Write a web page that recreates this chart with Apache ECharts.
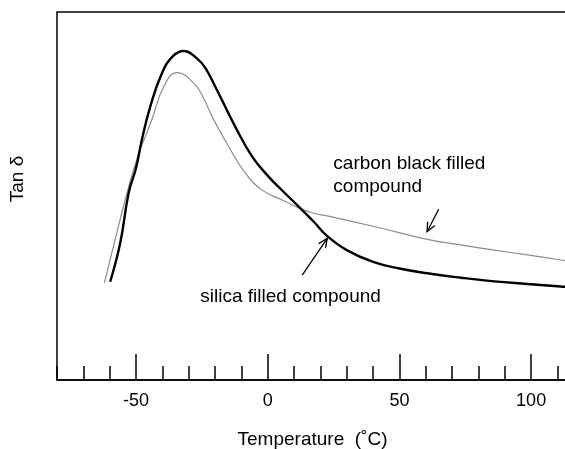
<!DOCTYPE html>
<html><head><meta charset="utf-8">
<script src="https://cdn.jsdelivr.net/npm/echarts@6/dist/echarts.min.js"></script>
<style>html,body{margin:0;padding:0;background:#fff}#c{width:565px;height:449px}</style>
</head><body><div id="c"></div>
<script>
// Silica filled compound (thick black)
const tempSilica = [-59.8, -56.0, -52.8, -50.0, -47.8, -44.6, -40.2, -36.0, -31.9, -26.3, -23.7, -19.9, -12.3, -5.9, 0.4, 5.5, 11.8, 17.5, 22.6, 30.0, 40.0, 50.0, 60.6, 73.3, 86.0, 98.6, 111.3, 114.0];
const tanSilica  = [26.7, 37.2, 50.8, 57.6, 65.2, 74.3, 83.3, 88.0, 89.4, 87.0, 84.8, 79.7, 68.8, 60.7, 55.2, 51.5, 47.1, 43.0, 39.1, 35.3, 32.1, 30.3, 29.0, 27.8, 26.8, 26.1, 25.4, 25.3];
// Carbon black filled compound (thin grey)
const tempCarbon = [-62.0, -56.7, -52.8, -49.2, -44.0, -39.5, -34.4, -27.5, -23.7, -21.1, -14.8, -8.5, -2.1, 5.5, 12.0, 17.5, 22.6, 41.6, 60.6, 73.3, 86.0, 98.6, 111.3, 114.0];
const tanCarbon  = [26.4, 41.7, 52.5, 61.0, 70.7, 79.7, 83.5, 80.2, 75.6, 71.5, 63.4, 56.2, 51.6, 48.9, 46.7, 45.3, 44.6, 41.5, 38.2, 36.7, 35.3, 34.0, 32.6, 32.3];
// Axis ticks / labels
const xTickLabels = [-50, 0, 50, 100];
const majorTicks = [-50, 0, 50, 100];
// Annotations (data coords)
const carbonLabel = {text: 'carbon black filled\ncompound', at: [24.9, 55.6]};
const carbonArrow = {from: [64.9, 46.4], to: [60.5, 40.3]};
const silicaLabel = {text: 'silica filled compound', at: [-25.6, 22.6]};
const silicaArrow = {from: [13.1, 28.5], to: [22.6, 38.5]};

const FONT = '"Liberation Sans", Arial, sans-serif';
const zip = (a, b) => a.map((v, i) => [v, b[i]]);
const chart = echarts.init(document.getElementById('c'), null, {renderer: 'canvas'});
const tickStyle = {color: '#000', width: 1.5};
chart.setOption({
  animation: false,
  grid: {left: 57, right: -3, top: 12, bottom: 69, outerBoundsMode: 'none', containLabel: false,
         show: true, borderColor: '#000', borderWidth: 1.5},
  xAxis: [{
    type: 'value', min: -80, max: 114, interval: 10,
    axisLine: {show: true, lineStyle: tickStyle},
    axisTick: {show: true, inside: true, length: 14, lineStyle: tickStyle},
    axisLabel: {customValues: xTickLabels, margin: 12, color: '#000', fontSize: 18, fontFamily: FONT},
    splitLine: {show: false},
    name: 'Temperature  (˚C)', nameLocation: 'middle', nameGap: 50,
    nameTextStyle: {color: '#000', fontSize: 19, fontFamily: FONT}
  }, {
    type: 'value', min: -80, max: 114, position: 'bottom',
    axisLine: {show: false},
    axisTick: {show: true, inside: true, length: 26, customValues: majorTicks, lineStyle: tickStyle},
    axisLabel: {show: false}, splitLine: {show: false}
  }],
  yAxis: {type: 'value', min: 0, max: 100, axisLine: {show: false}, axisTick: {show: false}, axisLabel: {show: false}, splitLine: {show: false}},
  series: [{
    name: 'carbon black filled compound', type: 'line', data: zip(tempCarbon, tanCarbon),
    showSymbol: false, smooth: 0.45, clip: true,
    lineStyle: {color: '#8c8c8c', width: 1.2}
  }, {
    name: 'silica filled compound', type: 'line', data: zip(tempSilica, tanSilica),
    showSymbol: false, smooth: 0.45, clip: true,
    lineStyle: {color: '#000', width: 2.4}
  }]
});

const px = p => chart.convertToPixel({xAxisIndex: 0, yAxisIndex: 0}, p);
function arrowEls(a) {
  const f = px(a.from), t = px(a.to);
  const ang = Math.atan2(t[1] - f[1], t[0] - f[0]);
  const L = 10, s = 0.42;
  const h1 = [t[0] - L * Math.cos(ang - s), t[1] - L * Math.sin(ang - s)];
  const h2 = [t[0] - L * Math.cos(ang + s), t[1] - L * Math.sin(ang + s)];
  return [
    {type: 'line', shape: {x1: f[0], y1: f[1], x2: t[0], y2: t[1]}, style: {stroke: '#000', lineWidth: 1.3}},
    {type: 'polyline', shape: {points: [h1, t, h2]}, style: {stroke: '#000', lineWidth: 1.3, fill: null}}
  ];
}
function labelEl(l) {
  const p = px(l.at);
  return {type: 'text', x: p[0], y: p[1], style: {text: l.text, fill: '#000', fontSize: 19, fontFamily: FONT, align: 'left', verticalAlign: 'middle', lineHeight: 23}};
}
chart.setOption({
  graphic: [
    labelEl(carbonLabel), labelEl(silicaLabel),
    ...arrowEls(carbonArrow), ...arrowEls(silicaArrow),
    {type: 'text', x: 18, y: 179, rotation: Math.PI / 2, style: {text: 'Tan δ', fill: '#000', fontSize: 19, fontFamily: FONT, align: 'center', verticalAlign: 'middle'}}
  ]
});
</script>
</body></html>
